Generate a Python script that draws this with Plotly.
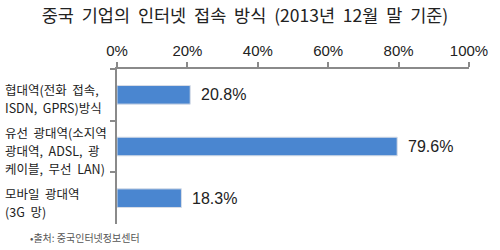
import plotly.graph_objects as go

NB = "\u00a0"
title = "중국 기업의 인터넷 접속 방식 (2013년 12월 말 기준)"
categories = [
    "협대역(전화 접속, ISDN, GPRS)방식",
    "유선 광대역(소지역 광대역, ADSL, 광케이블, 무선 LAN)",
    "모바일 광대역 (3G 망)",
]
category_lines = [
    ["협대역(전화 접속,", "ISDN, GPRS)방식"],
    ["유선 광대역(소지역", "광대역, ADSL, 광", "케이블, 무선 LAN)"],
    ["모바일 광대역", "(3G 망)"],
]
values = [20.8, 79.6, 18.3]
value_labels = ["20.8%", "79.6%", "18.3%"]
source = "•출처: 중국인터넷정보센터"

KFONT = "Noto Sans CJK KR"
NFONT = "Liberation Sans, Arial, sans-serif"
BAR = "#4A86D0"


def widen(s):
    return s.replace(" ", NB * 2)


fig = go.Figure()
fig.add_trace(go.Bar(
    y=categories, x=values, orientation="h",
    marker=dict(color=BAR, line=dict(color="#d8dde6", width=1)),
    hoverinfo="skip",
))

# value labels
for c, v, t in zip(categories, values, value_labels):
    fig.add_annotation(x=v, y=c, xref="x", yref="y", text=t, showarrow=False,
                       xanchor="left", xshift=9,
                       font=dict(family=NFONT, size=16, color="#222"))

# category labels (left aligned, one annotation per line)
LINE = 18
for c, lines in zip(categories, category_lines):
    n = len(lines)
    for i, ln in enumerate(lines):
        off = ((n - 1) / 2 - i) * LINE - 4
        fig.add_annotation(x=0, y=c, xref="paper", yref="y", text=widen(ln), showarrow=False,
                           xanchor="left", yanchor="middle", xshift=-114, yshift=off,
                           font=dict(family=KFONT, size=12.5, color="#222"))

fig.add_annotation(x=0, y=0, xref="paper", yref="paper", text=source, showarrow=False,
                   xanchor="left", yanchor="middle", xshift=-89, yshift=-13,
                   font=dict(family=KFONT, size=10, color="#555"))

fig.update_layout(
    width=500, height=250,
    margin=dict(l=117, r=25, t=69, b=26),
    paper_bgcolor="white", plot_bgcolor="white",
    showlegend=False,
    bargap=0.64,
    title=dict(text=widen(title), x=0.49, xanchor="center", y=1 - 16 / 250, yanchor="middle",
               font=dict(family=KFONT, size=17.5, color="#222")),
    xaxis=dict(side="top", range=[0, 100], dtick=20, ticksuffix="%",
               showgrid=False, zeroline=False, showline=True, linecolor="#8a8a8a", linewidth=1.5,
               ticks="outside", ticklen=5, tickcolor="#8a8a8a", tickwidth=1.5,
               tickfont=dict(family=NFONT, size=15, color="#222")),
    yaxis=dict(autorange="reversed", showticklabels=False, showgrid=False, zeroline=False,
               showline=True, linecolor="#8a8a8a", linewidth=1.5,
               ticks="outside", ticklen=5, tickcolor="#8a8a8a", tickwidth=1.5,
               tickson="boundaries"),
)

fig.write_html("out.html")
